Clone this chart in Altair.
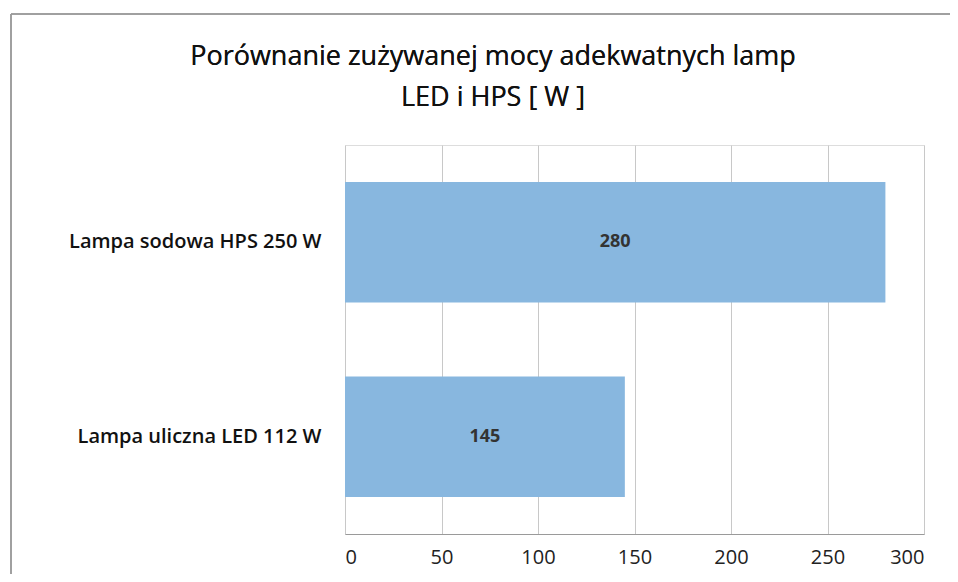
import altair as alt
import pandas as pd

categories = ["Lampa sodowa HPS 250 W", "Lampa uliczna LED 112 W"]
values = [280, 145]
title_lines = ["Porównanie zużywanej mocy adekwatnych lamp", "LED i HPS [ W ]"]

df = pd.DataFrame({"cat": categories, "val": values})
df["half"] = df["val"] / 2

FONT = "Open Sans"

y_enc = alt.Y("cat:N", sort=categories, title=None,
              scale=alt.Scale(paddingInner=0.38, paddingOuter=0.19),
              axis=alt.Axis(labelFont=FONT, labelFontSize=20, labelFontWeight=600,
                            labelColor="#111111", labelPadding=24, labelLimit=400,
                            ticks=False, domain=False, grid=False))

bars = alt.Chart(df).mark_bar(color="#88b7df").encode(
    x=alt.X("val:Q", title=None,
            scale=alt.Scale(domain=[0, 300], nice=False),
            axis=alt.Axis(values=[0, 50, 100, 150, 200, 250, 300], labelFont=FONT,
                          labelFontSize=20, labelColor="#222222", labelPadding=13,
                          ticks=False, domain=True, domainColor="#9a9a9a",
                          grid=True, gridColor="#c8c8c8", gridWidth=1)),
    y=y_enc,
)

labels = alt.Chart(df).mark_text(font=FONT, fontSize=18, fontWeight="bold",
                                 color="#333333").encode(
    x=alt.X("half:Q"),
    y=alt.Y("cat:N", sort=categories),
    text=alt.Text("val:Q"),
)

frame_left = alt.Chart(df).mark_rule(color="#9a9a9a", strokeWidth=1.5).encode(
    x=alt.value(-334), y=alt.value(-131), y2=alt.value(437))
frame_top = alt.Chart(df).mark_rule(color="#9a9a9a", strokeWidth=1.5).encode(
    y=alt.value(-131), x=alt.value(-334), x2=alt.value(613))

title1 = alt.Chart(df).mark_text(font=FONT, fontSize=27, fontWeight=500,
                                 color="#111111", baseline="middle",
                                 text=title_lines[0]).encode(
    x=alt.value(148), y=alt.value(-88))
title2 = alt.Chart(df).mark_text(font=FONT, fontSize=27, fontWeight=500,
                                 color="#111111", baseline="middle",
                                 text=title_lines[1]).encode(
    x=alt.value(148), y=alt.value(-47))

chart = alt.layer(bars, labels, frame_left, frame_top, title1, title2).properties(
    width=579,
    height=389,
    autosize=alt.AutoSizeParams(type="none"),
    padding={"left": 337, "top": 137, "right": 26, "bottom": 40},
).configure_view(stroke=None).configure(background="white")

chart.save("out.html", embed_options={"renderer": "svg", "actions": False})
